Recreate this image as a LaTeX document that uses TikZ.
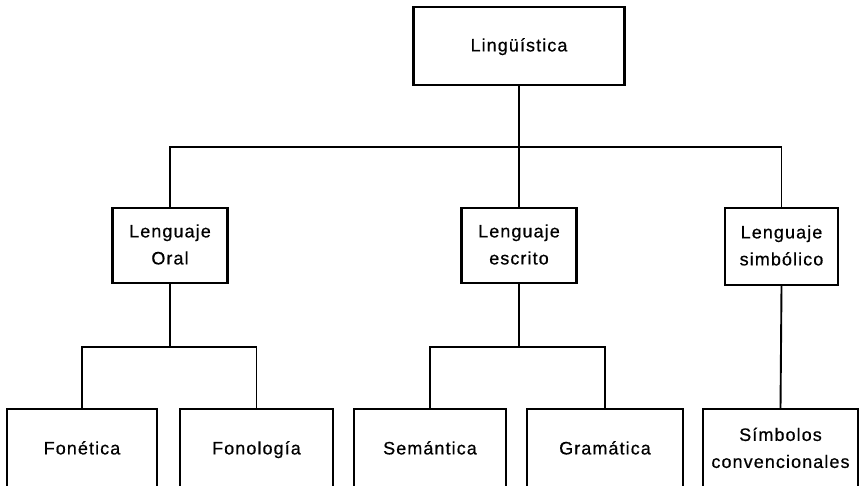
\documentclass[tikz,border=0pt]{standalone}
\usepackage{fontspec}
\setmainfont{Liberation Sans}[LetterSpace=6,FakeBold=0.6]
\newcommand{\rl}{\strut}
\begin{document}
\begin{tikzpicture}[x=1pt,y=-1pt,
  box/.style={draw, line width=2.4pt, align=center, inner sep=0pt,
    font=\fontsize{18}{27}\selectfont},
  conn/.style={line width=1.9pt}]
\useasboundingbox (0,0) rectangle (861,485);
\clip (0,0) rectangle (861,485);
% top level
\node[box, minimum width=211, minimum height=78] (ling) at (519,46) {\rl Lingüística};
% second level
\node[box, minimum width=115, minimum height=75] (oral) at (170,245.5) {\rl Lenguaje\\\rl Oral};
\node[box, minimum width=115, minimum height=75] (escrito) at (519,245.5) {\rl Lenguaje\\\rl escrito};
\node[box, minimum width=113, minimum height=77] (simb) at (781.5,246.5) {\rl Lenguaje\\\rl simbólico};
% third level (open towards the bottom edge)
\node[box, minimum width=150, minimum height=80] (fonet) at (82,449) {\rl Fonética};
\node[box, minimum width=153, minimum height=80] (fonol) at (256.5,449) {\rl Fonología};
\node[box, minimum width=152, minimum height=80] (seman) at (430,449) {\rl Semántica};
\node[box, minimum width=156, minimum height=80] (grama) at (605,449) {\rl Gramática};
\node[box, minimum width=155, minimum height=80] (simcon) at (780.5,449) {\rl Símbolos\\\rl convencionales};
% bus lines
\coordinate (bus) at (0,147);
\coordinate (busb) at (0,347);
% connectors
\draw[conn] (ling.south) -- (escrito.north);
\draw[conn] (oral.north) -- (oral.north |- bus) -- (simb.north |- bus) -- (simb.north);
\draw[conn] (oral.south) -- (oral.south |- busb);
\draw[conn] (fonet.north) -- (fonet.north |- busb) -- (fonol.north |- busb) -- (fonol.north);
\draw[conn] (escrito.south) -- (escrito.south |- busb);
\draw[conn] (seman.north) -- (seman.north |- busb) -- (grama.north |- busb) -- (grama.north);
\draw[conn] (simb.south) -- (simcon.north);
\end{tikzpicture}
\end{document}
